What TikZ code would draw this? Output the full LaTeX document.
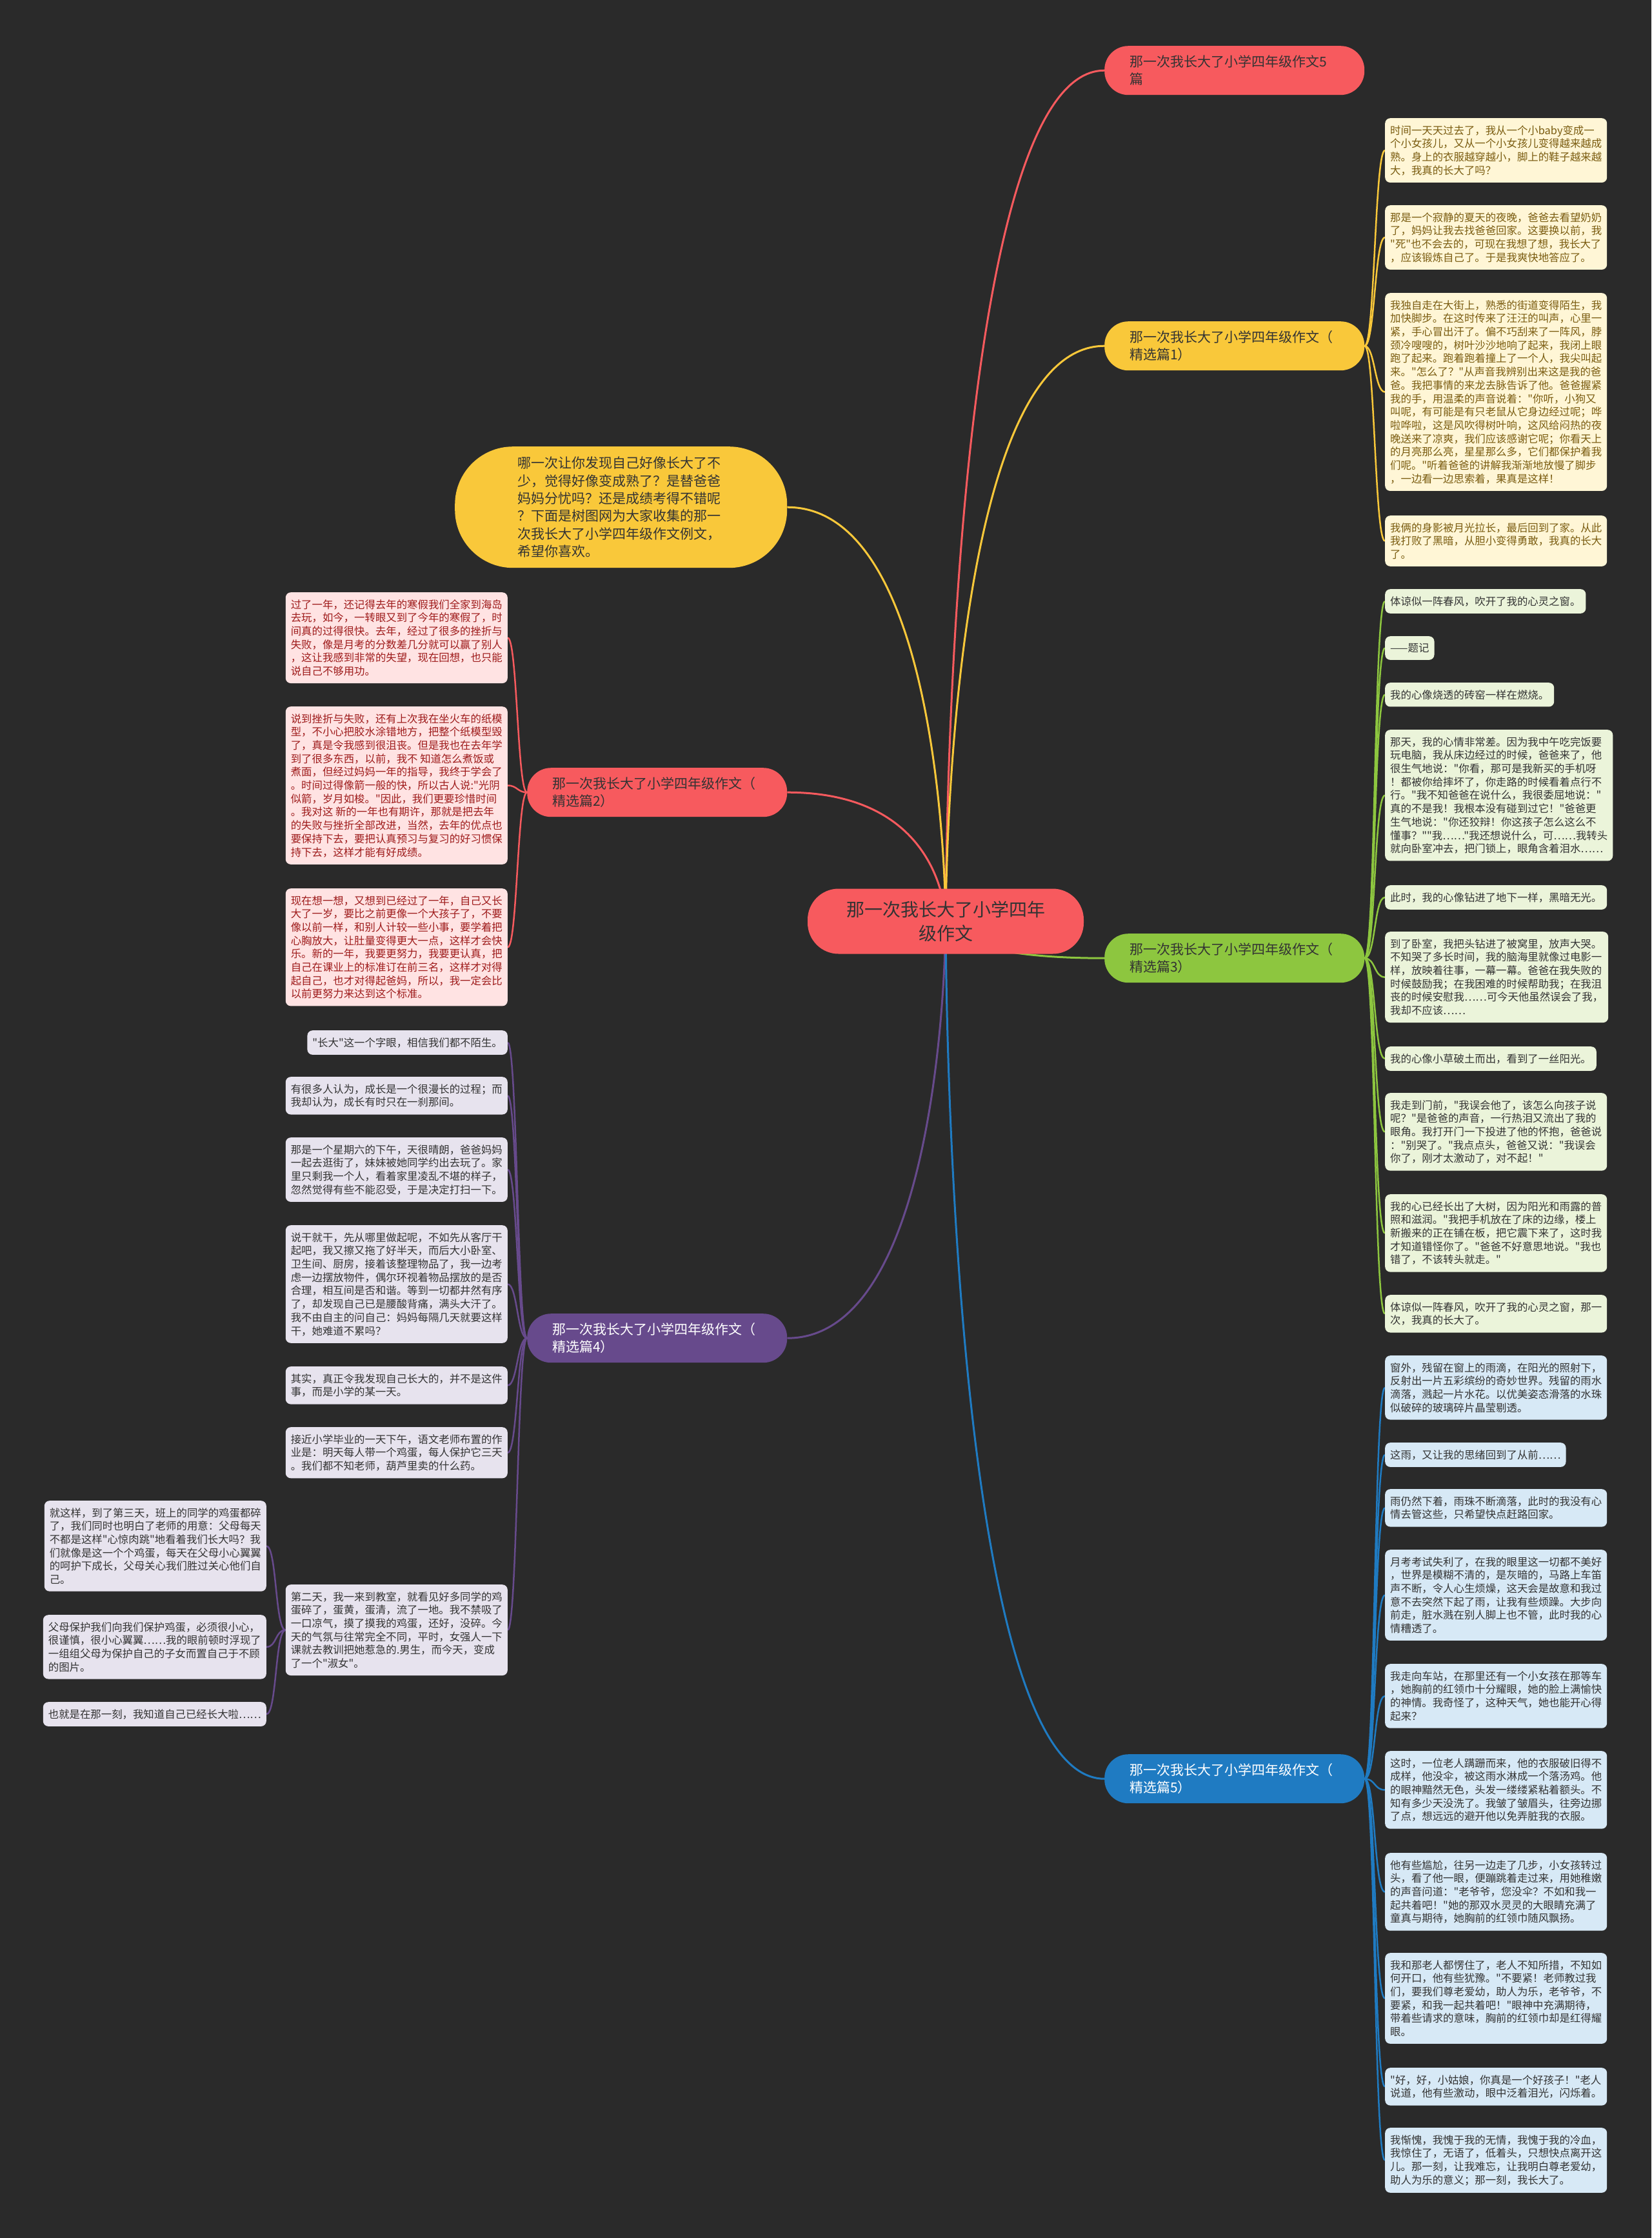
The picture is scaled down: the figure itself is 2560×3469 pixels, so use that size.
\documentclass[tikz,border=0pt]{standalone}
\usepackage{fontspec}
\setmainfont{Noto Sans CJK SC}[Ligatures=TeXOff]
\usetikzlibrary{backgrounds}
\definecolor{bgdark}{HTML}{2A2A2A}
\definecolor{mapred}{HTML}{F75A5E}
\definecolor{mapyellow}{HTML}{F9C83A}
\definecolor{mapgreen}{HTML}{8DC63F}
\definecolor{mappurple}{HTML}{674A8C}
\definecolor{mapblue}{HTML}{1F7BC2}
\definecolor{fillyellow}{HTML}{FFF6D6}
\definecolor{fillred}{HTML}{FFE3E3}
\definecolor{fillgreen}{HTML}{EBF4DA}
\definecolor{fillpurple}{HTML}{E7E3EE}
\definecolor{fillblue}{HTML}{D7E9F6}
\definecolor{inkbrown}{HTML}{7A5C10}
\definecolor{inkred}{HTML}{9E1B1B}
\definecolor{inkdark}{HTML}{333333}
\begin{document}
\begin{tikzpicture}[x=1pt,y=-1pt,
  leaf/.style={rounded corners=8pt,inner xsep=8pt,inner ysep=11pt,align=left,
    font=\fontsize{16.4}{20.7}\selectfont,text=inkdark},
  yleaf/.style={leaf,fill=fillyellow,text=inkbrown,anchor=north west},
  gleaf/.style={leaf,fill=fillgreen,anchor=north west},
  uleaf/.style={leaf,fill=fillblue,anchor=north west},
  rleaf/.style={leaf,fill=fillred,text=inkred,anchor=north east},
  pleaf/.style={leaf,fill=fillpurple,anchor=north east},
  branch/.style={rounded corners=37pt,text width=325pt,inner xsep=39pt,inner ysep=14pt,
    minimum height=76pt,align=left,font=\fontsize{21}{27.4}\selectfont,text=inkdark,anchor=north west},
  trunk/.style={line width=3pt},
  link/.style={line width=2.5pt}]
\begin{scope}[on background layer]
\fill[bgdark] (0,0) rectangle (2560,3469);
\end{scope}
\useasboundingbox (0,0) rectangle (2560,3469);

% centre and main branches
\node[fill=mapred,rounded corners=48pt,minimum width=428pt,minimum height=101pt,align=center,
  font=\fontsize{28}{36.6}\selectfont,text=inkdark] (ctr) at (1466,1428) {那一次我长大了小学四年\\级作文};
\node[branch,fill=mapred] (top5) at (1712,71) {那一次我长大了小学四年级作文5\\篇};
\node[branch,fill=mapyellow] (b1) at (1712,498) {那一次我长大了小学四年级作文（\\精选篇1）};
\node[fill=mapyellow,rounded corners=90pt,text width=320pt,inner xsep=97.5pt,inner ysep=15pt,
  minimum height=188pt,align=left,font=\fontsize{21}{27.4}\selectfont,text=inkdark,anchor=north west]
  (intro) at (705,692) {哪一次让你发现自己好像长大了不\\
少，觉得好像变成熟了？是替爸爸\\
妈妈分忧吗？还是成绩考得不错呢\\
？下面是树图网为大家收集的那一\\
次我长大了小学四年级作文例文，\\
希望你喜欢。};
\node[branch,fill=mapred] (b2) at (817,1190) {那一次我长大了小学四年级作文（\\精选篇2）};
\node[branch,fill=mapgreen] (b3) at (1712,1447) {那一次我长大了小学四年级作文（\\精选篇3）};
\node[branch,fill=mappurple,text=white] (b4) at (817,2036) {那一次我长大了小学四年级作文（\\精选篇4）};
\node[branch,fill=mapblue,text=white] (b5) at (1712,2719) {那一次我长大了小学四年级作文（\\精选篇5）};

% branch 1
\node[yleaf] (y1) at (2147,183) {时间一天天过去了，我从一个小baby变成一\\
个小女孩儿，又从一个小女孩儿变得越来越成\\
熟。身上的衣服越穿越小，脚上的鞋子越来越\\
大，我真的长大了吗？};
\node[yleaf] (y2) at (2147,318) {那是一个寂静的夏天的夜晚，爸爸去看望奶奶\\
了，妈妈让我去找爸爸回家。这要换以前，我\\
"死"也不会去的，可现在我想了想，我长大了\\
，应该锻炼自己了。于是我爽快地答应了。};
\node[yleaf] (y3) at (2147,454) {我独自走在大街上，熟悉的街道变得陌生，我\\
加快脚步。在这时传来了汪汪的叫声，心里一\\
紧，手心冒出汗了。偏不巧刮来了一阵风，脖\\
颈冷嗖嗖的，树叶沙沙地响了起来，我闭上眼\\
跑了起来。跑着跑着撞上了一个人，我尖叫起\\
来。"怎么了？"从声音我辨别出来这是我的爸\\
爸。我把事情的来龙去脉告诉了他。爸爸握紧\\
我的手，用温柔的声音说着："你听，小狗又\\
叫呢，有可能是有只老鼠从它身边经过呢；哗\\
啦哗啦，这是风吹得树叶响，这风给闷热的夜\\
晚送来了凉爽，我们应该感谢它呢；你看天上\\
的月亮那么亮，星星那么多，它们都保护着我\\
们呢。"听着爸爸的讲解我渐渐地放慢了脚步\\
，一边看一边思索着，果真是这样！};
\node[yleaf] (y4) at (2147,799) {我俩的身影被月光拉长，最后回到了家。从此\\
我打败了黑暗，从胆小变得勇敢，我真的长大\\
了。};

% branch 3
\node[gleaf] (g1) at (2147,913) {体谅似一阵春风，吹开了我的心灵之窗。};
\node[gleaf] (g2) at (2147,986) {——题记};
\node[gleaf] (g3) at (2147,1058) {我的心像烧透的砖窑一样在燃烧。};
\node[gleaf] (g4) at (2147,1131) {那天，我的心情非常差。因为我中午吃完饭要\\
玩电脑，我从床边经过的时候，爸爸来了，他\\
很生气地说："你看，那可是我新买的手机呀\\
！都被你给摔坏了，你走路的时候看着点行不\\
行。"我不知爸爸在说什么，我很委屈地说："\\
真的不是我！我根本没有碰到过它！"爸爸更\\
生气地说："你还狡辩！你这孩子怎么这么不\\
懂事？""我……"我还想说什么，可……我转头\\
就向卧室冲去，把门锁上，眼角含着泪水……};
\node[gleaf] (g5) at (2147,1372) {此时，我的心像钻进了地下一样，黑暗无光。};
\node[gleaf] (g6) at (2147,1444) {到了卧室，我把头钻进了被窝里，放声大哭。\\
不知哭了多长时间，我的脑海里就像过电影一\\
样，放映着往事，一幕一幕。爸爸在我失败的\\
时候鼓励我；在我困难的时候帮助我；在我沮\\
丧的时候安慰我……可今天他虽然误会了我，\\
我却不应该……};
\node[gleaf] (g7) at (2147,1622) {我的心像小草破土而出，看到了一丝阳光。};
\node[gleaf] (g8) at (2147,1694) {我走到门前，"我误会他了，该怎么向孩子说\\
呢？"是爸爸的声音，一行热泪又流出了我的\\
眼角。我打开门一下投进了他的怀抱，爸爸说\\
："别哭了。"我点点头，爸爸又说："我误会\\
你了，刚才太激动了，对不起！"};
\node[gleaf] (g9) at (2147,1851) {我的心已经长出了大树，因为阳光和雨露的普\\
照和滋润。"我把手机放在了床的边缘，楼上\\
新搬来的正在铺在板，把它震下来了，这时我\\
才知道错怪你了。"爸爸不好意思地说。"我也\\
错了，不该转头就走。"};
\node[gleaf] (g10) at (2147,2007) {体谅似一阵春风，吹开了我的心灵之窗，那一\\
次，我真的长大了。};

% branch 5
\node[uleaf] (u1) at (2147,2101) {窗外，残留在窗上的雨滴，在阳光的照射下，\\
反射出一片五彩缤纷的奇妙世界。残留的雨水\\
滴落，溅起一片水花。以优美姿态滑落的水珠\\
似破碎的玻璃碎片晶莹剔透。};
\node[uleaf] (u2) at (2147,2236) {这雨，又让我的思绪回到了从前……};
\node[uleaf] (u3) at (2147,2308) {雨仍然下着，雨珠不断滴落，此时的我没有心\\
情去管这些，只希望快点赶路回家。};
\node[uleaf] (u4) at (2147,2402) {月考考试失利了，在我的眼里这一切都不美好\\
，世界是模糊不清的，是灰暗的，马路上车笛\\
声不断，令人心生烦燥，这天会是故意和我过\\
意不去突然下起了雨，让我有些烦躁。大步向\\
前走，脏水溅在别人脚上也不管，此时我的心\\
情糟透了。};
\node[uleaf] (u5) at (2147,2579) {我走向车站，在那里还有一个小女孩在那等车\\
，她胸前的红领巾十分耀眼，她的脸上满愉快\\
的神情。我奇怪了，这种天气，她也能开心得\\
起来？};
\node[uleaf] (u6) at (2147,2714) {这时，一位老人蹒跚而来，他的衣服破旧得不\\
成样，他没伞，被这雨水淋成一个落汤鸡。他\\
的眼神黯然无色，头发一缕缕紧粘着额头。不\\
知有多少天没洗了。我皱了皱眉头，往旁边挪\\
了点，想远远的避开他以免弄脏我的衣服。};
\node[uleaf] (u7) at (2147,2872) {他有些尴尬，往另一边走了几步，小女孩转过\\
头，看了他一眼，便蹦跳着走过来，用她稚嫩\\
的声音问道："老爷爷，您没伞？不如和我一\\
起共着吧！"她的那双水灵灵的大眼睛充满了\\
童真与期待，她胸前的红领巾随风飘扬。};
\node[uleaf] (u8) at (2147,3027) {我和那老人都愣住了，老人不知所措，不知如\\
何开口，他有些犹豫。"不要紧！老师教过我\\
们，要我们尊老爱幼，助人为乐，老爷爷，不\\
要紧，和我一起共着吧！"眼神中充满期待，\\
带着些请求的意味，胸前的红领巾却是红得耀\\
眼。};
\node[uleaf] (u9) at (2147,3205) {"好，好，小姑娘，你真是一个好孩子！"老人\\
说道，他有些激动，眼中泛着泪光，闪烁着。};
\node[uleaf] (u10) at (2147,3298) {我惭愧，我愧于我的无情，我愧于我的冷血，\\
我惊住了，无语了，低着头，只想快点离开这\\
儿。那一刻，让我难忘，让我明白尊老爱幼，\\
助人为乐的意义；那一刻，我长大了。};

% branch 2
\node[rleaf] (r1) at (787,918) {过了一年，还记得去年的寒假我们全家到海岛\\
去玩，如今，一转眼又到了今年的寒假了，时\\
间真的过得很快。去年，经过了很多的挫折与\\
失败，像是月考的分数差几分就可以赢了别人\\
，这让我感到非常的失望，现在回想，也只能\\
说自己不够用功。};
\node[rleaf] (r2) at (787,1095) {说到挫折与失败，还有上次我在坐火车的纸模\\
型，不小心把胶水涂错地方，把整个纸模型毁\\
了，真是令我感到很沮丧。但是我也在去年学\\
到了很多东西，以前，我不 知道怎么煮饭或\\
煮面，但经过妈妈一年的指导，我终于学会了\\
。时间过得像箭一般的快，所以古人说:"光阴\\
似箭，岁月如梭。"因此，我们更要珍惜时间\\
。我对这 新的一年也有期许，那就是把去年\\
的失败与挫折全部改进，当然，去年的优点也\\
要保持下去，要把认真预习与复习的好习惯保\\
持下去，这样才能有好成绩。};
\node[rleaf] (r3) at (787,1377) {现在想一想，又想到已经过了一年，自己又长\\
大了一岁，要比之前更像一个大孩子了，不要\\
像以前一样，和别人计较一些小事，要学着把\\
心胸放大，让肚量变得更大一点，这样才会快\\
乐。新的一年，我要更努力，我要更认真，把\\
自己在课业上的标准订在前三名，这样才对得\\
起自己，也才对得起爸妈，所以，我一定会比\\
以前更努力来达到这个标准。};

% branch 4
\node[pleaf] (p1) at (787,1597) {"长大"这一个字眼，相信我们都不陌生。};
\node[pleaf] (p2) at (787,1669) {有很多人认为，成长是一个很漫长的过程；而\\
我却认为，成长有时只在一刹那间。};
\node[pleaf] (p3) at (787,1763) {那是一个星期六的下午，天很晴朗，爸爸妈妈\\
一起去逛街了，妹妹被她同学约出去玩了。家\\
里只剩我一个人，看着家里凌乱不堪的样子，\\
忽然觉得有些不能忍受，于是决定打扫一下。};
\node[pleaf] (p4) at (787,1899) {说干就干，先从哪里做起呢，不如先从客厅干\\
起吧，我又擦又拖了好半天，而后大小卧室、\\
卫生间、厨房，接着该整理物品了，我一边考\\
虑一边摆放物件，偶尔环视着物品摆放的是否\\
合理，相互间是否和谐。等到一切都井然有序\\
了，却发现自己已是腰酸背痛，满头大汗了。\\
我不由自主的问自己：妈妈每隔几天就要这样\\
干，她难道不累吗？};
\node[pleaf] (p5) at (787,2118) {其实，真正令我发现自己长大的，并不是这件\\
事，而是小学的某一天。};
\node[pleaf] (p6) at (787,2212) {接近小学毕业的一天下午，语文老师布置的作\\
业是：明天每人带一个鸡蛋，每人保护它三天\\
。我们都不知老师，葫芦里卖的什么药。};
\node[pleaf] (p7) at (787,2456) {第二天，我一来到教室，就看见好多同学的鸡\\
蛋碎了，蛋黄，蛋清，流了一地。我不禁吸了\\
一口凉气，摸了摸我的鸡蛋，还好，没碎。今\\
天的气氛与往常完全不同，平时，女强人一下\\
课就去教训把她惹急的.男生，而今天，变成\\
了一个"淑女"。};
\node[pleaf] (q1) at (413,2326) {就这样，到了第三天，班上的同学的鸡蛋都碎\\
了，我们同时也明白了老师的用意：父母每天\\
不都是这样"心惊肉跳"地看着我们长大吗？我\\
们就像是这一个个鸡蛋，每天在父母小心翼翼\\
的呵护下成长，父母关心我们胜过关心他们自\\
己。};
\node[pleaf] (q2) at (413,2503) {父母保护我们向我们保护鸡蛋，必须很小心，\\
很谨慎，很小心翼翼……我的眼前顿时浮现了\\
一组组父母为保护自己的子女而置自己于不顾\\
的图片。};
\node[pleaf] (q3) at (413,2638) {也就是在那一刻，我知道自己已经长大啦……};

% connectors
\begin{scope}[on background layer]
\draw[trunk,mapred] (ctr.center) .. controls (ctr.center) and (ctr.center |- top5.west) .. (top5.west);
\draw[trunk,mapyellow] (ctr.center) .. controls (ctr.center) and (ctr.center |- b1.west) .. (b1.west);
\draw[trunk,mapyellow] (ctr.center) .. controls (ctr.center) and (ctr.center |- intro.east) .. (intro.east);
\draw[trunk,mapred] (ctr.center) .. controls (ctr.center) and (ctr.center |- b2.east) .. (b2.east);
\draw[trunk,mapgreen] (ctr.center) .. controls (ctr.center) and (ctr.center |- b3.west) .. (b3.west);
\draw[trunk,mappurple] (ctr.center) .. controls (ctr.center) and (ctr.center |- b4.east) .. (b4.east);
\draw[trunk,mapblue] (ctr.center) .. controls (ctr.center) and (ctr.center |- b5.west) .. (b5.west);
\foreach \k in {y1,y2,y3,y4}
  \draw[link,mapyellow] (b1.east) .. controls +(16,0) and +(-16,0) .. (\k.west);
\foreach \k in {g1,g2,g3,g4,g5,g6,g7,g8,g9,g10}
  \draw[link,mapgreen] (b3.east) .. controls +(17,0) and +(-17,0) .. (\k.west);
\foreach \k in {u1,u2,u3,u4,u5,u6,u7,u8,u9,u10}
  \draw[link,mapblue] (b5.east) .. controls +(17,0) and +(-17,0) .. (\k.west);
\foreach \k in {r1,r2,r3}
  \draw[link,mapred] (b2.west) .. controls +(-15,0) and +(15,0) .. (\k.east);
\foreach \k in {p1,p2,p3,p4,p5,p6,p7}
  \draw[link,mappurple] (b4.west) .. controls +(-15,0) and +(15,0) .. (\k.east);
\foreach \k in {q1,q2,q3}
  \draw[link,mappurple] (p7.west) .. controls +(-16,0) and +(16,0) .. (\k.east);
\end{scope}
\end{tikzpicture}
\end{document}
